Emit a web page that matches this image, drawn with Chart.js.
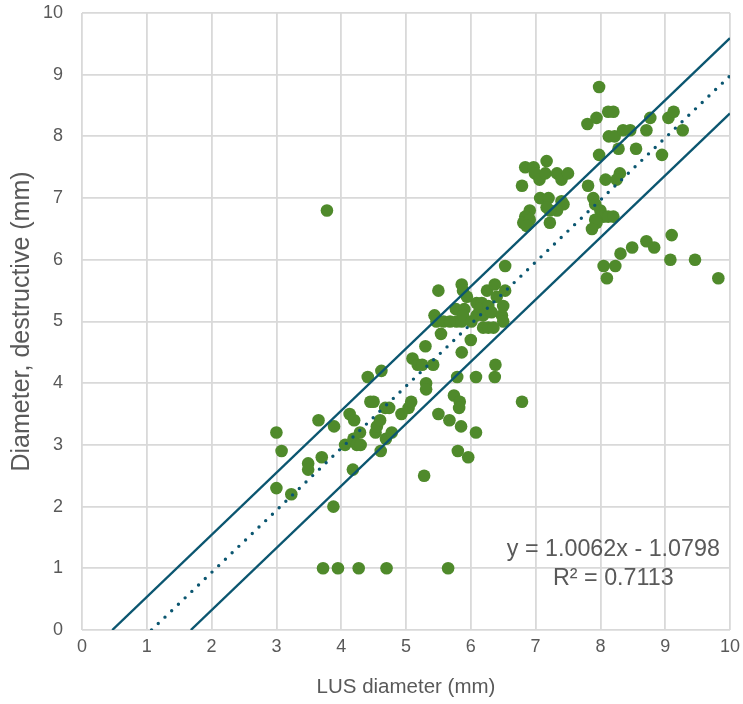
<!DOCTYPE html>
<html>
<head>
<meta charset="utf-8">
<script src="https://cdn.jsdelivr.net/npm/chart.js@4.4.1/dist/chart.umd.min.js"></script>
<style>
  html, body { margin: 0; padding: 0; background: #ffffff; }
  #wrap { width: 743px; height: 704px; position: relative; }
</style>
</head>
<body>
<div id="wrap"><canvas id="c"></canvas></div>
<script>
// ---- Data ----
const lusDiameter = [
  3.72, 3.95, 4.27, 4.70, 5.65, 3.78,
  3.00, 3.00, 3.08, 3.23, 3.49, 3.49, 3.65, 3.70, 3.89, 3.88,
  4.06, 4.13, 4.20, 4.19, 4.24, 4.30, 4.29, 4.18,
  4.41, 4.62, 4.45, 4.50, 4.53, 4.55, 4.60, 4.69, 4.78, 4.61, 4.68, 4.74,
  4.93, 5.04, 5.08, 5.28,
  5.10, 5.18, 5.25, 5.42, 5.30, 5.31, 5.31,
  5.50, 5.67, 5.74, 5.83, 5.82, 5.85, 6.08, 5.80, 5.96,
  5.79, 6.08, 6.37, 6.38, 6.79,
  5.54, 6.00, 5.86,
  5.44, 5.47, 5.58, 5.68, 5.78, 5.86, 5.77, 5.90, 5.88,
  5.50, 5.86, 5.88, 5.94, 6.01,
  6.09, 6.17, 6.14, 6.09, 6.19, 6.25, 6.37, 6.40, 6.53, 6.27, 6.32, 6.48, 6.50, 6.50,
  6.19, 6.27, 6.35, 6.53,
  6.84, 6.97, 7.17, 6.79, 6.99, 7.06, 7.15, 7.33, 7.40, 7.50,
  7.07, 7.20, 7.40, 7.43, 7.33, 7.22, 7.17, 6.91, 6.84, 6.81, 6.91, 6.86, 7.22,
  7.81, 7.89, 7.92, 8.00, 8.05, 7.92, 7.94, 7.87, 8.12, 8.20,
  8.08, 8.30, 8.25, 7.98, 8.13, 8.22, 8.35, 8.46, 8.28,
  7.98, 7.80, 7.94, 8.12, 8.20, 8.77, 8.71, 9.05, 9.13, 9.27, 8.55, 8.95,
  9.10, 8.71, 8.83, 8.49, 8.31, 9.08, 9.46, 9.82, 8.05, 8.23, 8.10
];
const destructiveDiameter = [
  1.0, 1.0, 1.0, 1.0, 1.0, 6.8,
  3.2, 2.3, 2.9, 2.2, 2.7, 2.6, 3.4, 2.8, 3.3, 2.0,
  3.0, 3.5, 3.4, 3.1, 3.0, 3.0, 3.2, 2.6,
  4.1, 4.2, 3.7, 3.7, 3.2, 3.3, 3.4, 3.1, 3.2, 2.9, 3.6, 3.6,
  3.5, 3.6, 3.7, 2.5,
  4.4, 4.3, 4.3, 4.3, 4.6, 4.0, 3.9,
  3.5, 3.4, 3.8, 3.7, 3.6, 3.3, 3.2, 2.9, 2.8,
  4.1, 4.1, 4.1, 4.3, 3.7,
  4.8, 4.7, 4.5,
  5.1, 5.0, 5.0, 5.0, 5.0, 5.0, 5.2, 5.2, 5.1,
  5.5, 5.6, 5.5, 5.4, 5.0,
  5.3, 5.3, 5.2, 5.1, 5.1, 5.5, 5.6, 5.4, 5.5, 5.25, 5.15, 5.1, 5.0, 5.25,
  4.9, 4.9, 4.9, 5.9,
  7.5, 7.5, 7.6, 7.2, 7.4, 7.3, 7.4, 7.4, 7.3, 7.4,
  7.0, 7.0, 6.95, 6.9, 6.8, 6.8, 6.85, 6.8, 6.7, 6.6, 6.65, 6.55, 6.6,
  7.2, 7.0, 6.9, 6.8, 6.7, 6.65, 6.6, 6.5, 6.7, 6.7,
  7.3, 7.4, 7.3, 7.7, 8.0, 8.0, 8.1, 8.1, 7.8,
  8.8, 8.2, 8.3, 8.4, 8.4, 8.3, 8.1, 8.3, 8.4, 8.1, 7.8, 7.7,
  6.4, 6.3, 6.2, 6.2, 6.1, 6.0, 6.0, 5.7, 5.9, 5.9, 5.7
];

// Trendline (from the chart's equation) and the parallel band lines
const trendSlope = 1.0062;
const trendIntercept = -1.0798;
const trendR2 = 0.7113;
const bandOffset = 0.61;

const xTicks = [0, 1, 2, 3, 4, 5, 6, 7, 8, 9, 10];
const yTicks = [0, 1, 2, 3, 4, 5, 6, 7, 8, 9, 10];
const labelAnchor = { x: 8.2, y1: 1.30, y2: 0.84 };

// ---- Build datasets ----
const points = lusDiameter.map((x, i) => ({ x: x, y: destructiveDiameter[i] }));
function lineThrough(offset) {
  const b = trendIntercept + offset;
  const xStart = Math.max(xTicks[0], (yTicks[0] - b) / trendSlope);
  const xEnd = xTicks[xTicks.length - 1];
  return [{ x: xStart, y: trendSlope * xStart + b }, { x: xEnd, y: trendSlope * xEnd + b }];
}

const FONT = "'Liberation Sans', Arial, Helvetica, sans-serif";
const TEXT = '#595959';
const LINE = '#0b5670';
const GREEN = '#4f8a2b';

const eqPlugin = {
  id: 'eqLabel',
  afterDatasetsDraw(chart) {
    const { ctx, scales } = chart;
    const x = scales.x.getPixelForValue(labelAnchor.x);
    ctx.save();
    ctx.fillStyle = TEXT;
    ctx.font = "23.3px " + FONT;
    ctx.textAlign = 'center';
    ctx.textBaseline = 'middle';
    const sign = trendIntercept < 0 ? ' - ' : ' + ';
    ctx.fillText('y = ' + trendSlope.toFixed(4) + 'x' + sign + Math.abs(trendIntercept).toFixed(4), x, scales.y.getPixelForValue(labelAnchor.y1));
    ctx.fillText('R² = ' + trendR2.toFixed(4), x, scales.y.getPixelForValue(labelAnchor.y2));
    ctx.restore();
  }
};

new Chart(document.getElementById('c'), {
  type: 'scatter',
  data: {
    datasets: [
      {
        label: 'Upper',
        data: lineThrough(bandOffset),
        showLine: true, pointRadius: 0, borderColor: LINE, borderWidth: 2.4,
        order: 0
      },
      {
        label: 'Lower',
        data: lineThrough(-bandOffset),
        showLine: true, pointRadius: 0, borderColor: LINE, borderWidth: 2.4,
        order: 0
      },
      {
        label: 'Trend',
        data: lineThrough(0),
        showLine: true, pointRadius: 0, borderColor: LINE, borderWidth: 3.4,
        borderDash: [0, 9.3], borderCapStyle: 'round',
        order: 0
      },
      {
        label: 'Measurements',
        data: points,
        pointRadius: 6.3, pointHoverRadius: 6.3,
        pointBackgroundColor: GREEN, pointBorderColor: GREEN, pointBorderWidth: 0,
        order: 1
      }
    ]
  },
  options: {
    responsive: true,
    maintainAspectRatio: false,
    animation: false,
    events: [],
    layout: { padding: { top: 13, right: 13, left: 0, bottom: 0 } },
    plugins: { legend: { display: false }, tooltip: { enabled: false } },
    scales: {
      x: {
        type: 'linear', min: 0, max: 10,
        afterBuildTicks: (s) => { s.ticks = xTicks.map(v => ({ value: v })); },
        afterFit: (s) => { s.height = 74; s.paddingLeft = 0; s.paddingRight = 0; },
        ticks: { font: { family: FONT, size: 18 }, color: TEXT, padding: 6 },
        grid: { color: '#d9d9d9', lineWidth: 1.8, drawTicks: false },
        border: { display: false },
        title: { display: true, text: 'LUS diameter (mm)', font: { family: FONT, size: 20.5 }, color: TEXT, padding: { top: 0, bottom: 4 } }
      },
      y: {
        type: 'linear', min: 0, max: 10,
        afterBuildTicks: (s) => { s.ticks = yTicks.map(v => ({ value: v })); },
        afterFit: (s) => { s.width = 82; s.paddingTop = 0; s.paddingBottom = 0; },
        ticks: { font: { family: FONT, size: 18 }, color: TEXT, padding: 19 },
        grid: { color: '#d9d9d9', lineWidth: 1.8, drawTicks: false },
        border: { display: false },
        title: { display: true, text: 'Diameter, destructive (mm)', font: { family: FONT, size: 25 }, color: TEXT, padding: { top: 7, bottom: 0 } }
      }
    }
  },
  plugins: [eqPlugin]
});
</script>
</body>
</html>
